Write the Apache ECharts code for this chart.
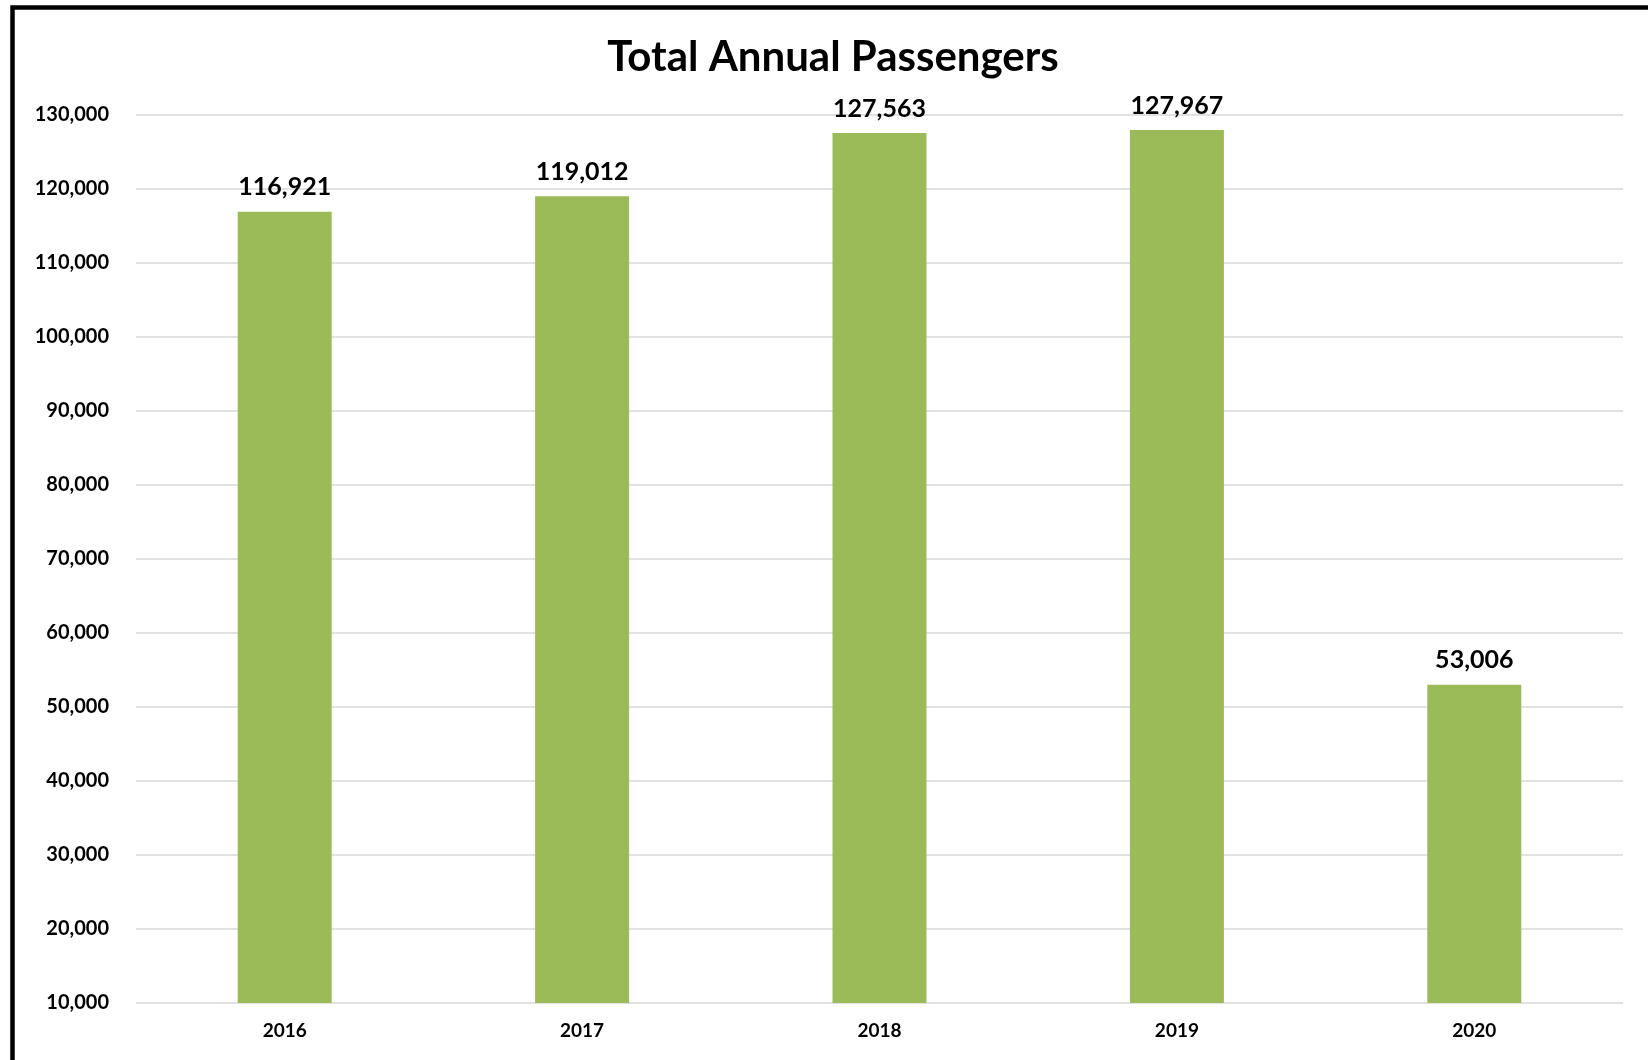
<!DOCTYPE html>
<html>
<head>
<meta charset="utf-8">
<title>Total Annual Passengers</title>
<script src="https://cdn.jsdelivr.net/npm/echarts@6/dist/echarts.min.js"></script>
<style>
  html, body { margin: 0; padding: 0; background: #fff; }
  #chart { width: 1648px; height: 1060px; }
</style>
</head>
<body>
<div id="chart"></div>
<script>
// data
const years = ['2016', '2017', '2018', '2019', '2020']
const passengers = [116921, 119012, 127563, 127967, 53006]
const yMin = 10000
const yMax = 130000
const yStep = 10000

const fmt = v => v.toLocaleString('en-US')

const chart = echarts.init(document.getElementById('chart'))

const option = {
    backgroundColor: '#fff',
    animation: false,
    textStyle: { fontFamily: 'Lato' },
    title: {
        text: 'Total Annual Passengers',
        left: 828,
        textAlign: 'center',
        top: 31,
        textStyle: { fontFamily: 'Lato', fontWeight: 'bold', fontSize: 42, color: '#000' }
    },
    // frame round the chart area (only top and left edges show)
    graphic: [{
        type: 'rect',
        shape: { x: 12.5, y: 7.5, width: 2000, height: 2000 },
        style: { fill: 'none', stroke: '#000', lineWidth: 4.5 },
        silent: true
    }],
    grid: { left: 136, right: 25, top: 115, bottom: 57, containLabel: false },
    xAxis: {
        type: 'category',
        data: years,
        axisLine: { show: false },
        axisTick: { show: false },
        axisLabel: { margin: 18, fontFamily: 'Lato', fontWeight: 'bold', fontSize: 19, color: '#000' }
    },
    yAxis: {
        type: 'value',
        min: yMin,
        max: yMax,
        interval: yStep,
        axisLine: { show: false },
        axisTick: { show: false },
        splitLine: { lineStyle: { color: '#d9d9d9', width: 1.5 } },
        axisLabel: {
            margin: 27,
            fontFamily: 'Lato', fontWeight: 'bold', fontSize: 20, color: '#000',
            formatter: fmt
        }
    },
    series: [{
        type: 'bar',
        data: passengers,
        barWidth: '31.6%',
        itemStyle: { color: '#9bbb59' },
        label: {
            show: true,
            position: 'top',
            distance: 12,
            fontFamily: 'Lato', fontWeight: 'bold', fontSize: 25, color: '#000',
            formatter: p => fmt(p.value)
        }
    }]
}

chart.setOption(option)
</script>
</body>
</html>
